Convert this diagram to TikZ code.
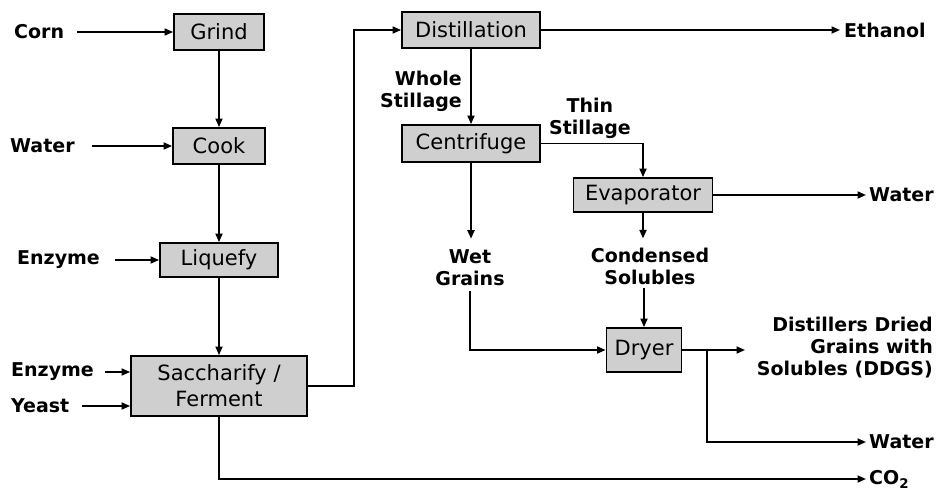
\documentclass[tikz,border=0pt]{standalone}
\usepackage{fontspec}
\setmainfont{DejaVu Sans}
\usepackage{tikz}
\usetikzlibrary{positioning,arrows.meta}
\definecolor{boxgrey}{HTML}{CFCFCF}
\tikzset{
  proc/.style 2 args={rectangle, draw=black, fill=boxgrey, line width=1.8pt,
              inner sep=0pt, minimum width=#1, minimum height=#2,
              align=center, font=\fontsize{21}{26}\selectfont},
  lbl/.style={inner sep=0pt, align=center, font=\bfseries\fontsize{19}{22}\selectfont},
  arr/.style={-{Triangle[length=8.5pt,width=7pt]}, line width=1.7pt},
}
\begin{document}
\begin{tikzpicture}[x=1pt,y=-1pt]
  \useasboundingbox (0,0) rectangle (945,492);

  % process boxes
  \node[proc={90}{36}]  (grind)   at (219,32)    {Grind};
  \node[proc={92}{36}]  (cook)    at (219,146)   {Cook};
  \node[proc={118}{34}] (liquefy) at (219,260)   {Liquefy};
  \node[proc={176}{60}] (sacch)   at (219,386)   {Saccharify /\\Ferment};
  \node[proc={138}{36}] (distill) at (471,30)    {Distillation};
  \node[proc={138}{37}] (centri)  at (471,143.5) {Centrifuge};
  \node[proc={139}{34}] (evap)    at (643,195)   {Evaporator};
  \node[proc={75}{44}]  (dryer)   at (644,350)   {Dryer};

  % streams in and out
  \node[lbl, anchor=west] (corn)    at (14,32)  {Corn};
  \node[lbl, anchor=west] (water1)  at (10,146) {Water};
  \node[lbl, anchor=west] (enz1)    at (17,260) {Enzyme};
  \node[lbl, anchor=west] (enz2)    at (11,372) {Enzyme};
  \node[lbl, anchor=west] (yeast)   at (11,406) {Yeast};
  \node[lbl, anchor=west] (ethanol) at (844,30) {Ethanol};
  \node[lbl, anchor=east, align=right] (whole) at (462,91) {Whole\\Stillage};
  \node[lbl] (thin) at (590,118) {Thin\\Stillage};
  \node[lbl, anchor=west] (water2)  at (869,195) {Water};
  \node[lbl] (cond) at (650,266) {Condensed\\Solubles};
  \node[lbl] (wet)  at (470,268) {Wet\\Grains};
  \node[lbl, anchor=east, align=right] (ddgs) at (933,348) {Distillers Dried\\Grains with\\Solubles (DDGS)};
  \node[lbl, anchor=west] (water3)  at (869,442) {Water};
  \node[lbl, anchor=west] (co2)     at (869,479) {CO\textsubscript{2}};
  \coordinate (ddgsin) at (745,350);
  \coordinate (split)  at (707,350);

  % left column
  \draw[arr, shorten <=13pt] (corn) -- (grind);
  \draw[arr, shorten <=17pt] (water1) -- (cook);
  \draw[arr, shorten <=15pt] (enz1) -- (liquefy);
  \draw[arr, shorten <=11pt] (enz2.east) -- (enz2 -| sacch.west);
  \draw[arr, shorten <=12pt] (yeast.east) -- (yeast -| sacch.west);
  \draw[arr] (grind) -- (cook);
  \draw[arr] (cook) -- (liquefy);
  \draw[arr] (liquefy) -- (sacch);
  \draw[arr] (sacch.east) -- ++(46,0) |- (distill.west);
  \draw[arr, shorten >=3pt] (sacch.south) |- (co2.west);

  % right part
  \draw[arr, shorten >=4pt] (distill) -- (ethanol);
  \draw[arr] (distill) -- (centri);
  \draw[arr] (centri.east) -| (evap.north);
  \draw[arr, shorten >=3pt] (evap) -- (water2);
  \draw[arr, shorten >=9pt] (evap.south) -- (evap.south |- cond.north);
  \draw[arr, shorten <=3pt] (dryer.north |- cond.south) -- (dryer.north);
  \draw[arr, shorten >=11pt] (centri.south) -- (centri.south |- wet.north);
  \draw[arr, shorten <=5pt] (wet.south) |- (dryer.west);
  \draw[arr] (dryer) -- (ddgsin);
  \draw[arr, shorten >=3pt] (split) |- (water3.west);
\end{tikzpicture}
\end{document}
